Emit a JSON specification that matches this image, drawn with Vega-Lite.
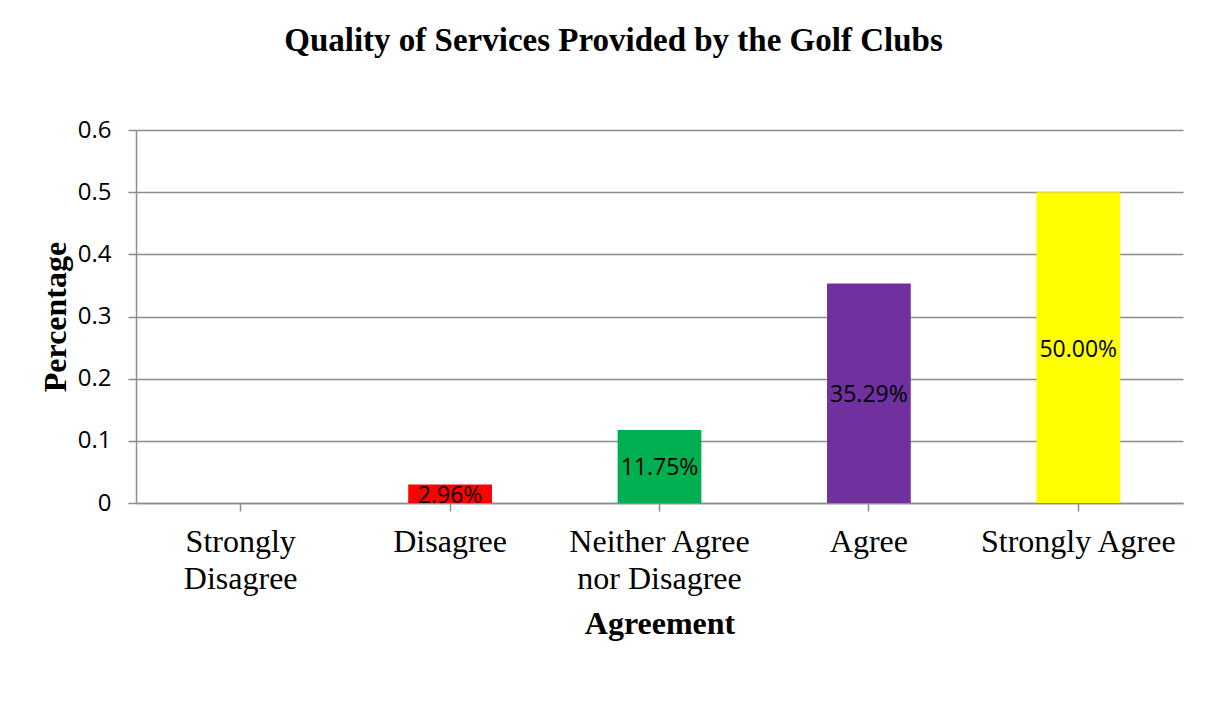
{
  "$schema": "https://vega.github.io/schema/vega-lite/v6.json",
  "width": 1047,
  "height": 373,
  "autosize": {"type": "none"},
  "padding": {"left": 136, "top": 130, "right": 29, "bottom": 206},
  "background": "white",
  "title": {
    "text": "Quality of Services Provided by the Golf Clubs",
    "font": "Liberation Serif",
    "fontSize": 33,
    "fontWeight": "bold",
    "color": "black",
    "offset": 60,
    "dx": -46
  },
  "data": {
    "values": [
      {"agreement": "Strongly Disagree", "value": 0, "label": "0.00%"},
      {"agreement": "Disagree", "value": 0.0296, "label": "2.96%"},
      {"agreement": "Neither Agree nor Disagree", "value": 0.1175, "label": "11.75%"},
      {"agreement": "Agree", "value": 0.3529, "label": "35.29%"},
      {"agreement": "Strongly Agree", "value": 0.5, "label": "50.00%"}
    ]
  },
  "encoding": {
    "x": {
      "field": "agreement",
      "type": "nominal",
      "sort": null,
      "scale": {"paddingInner": 0.6, "paddingOuter": 0.3},
      "axis": {
        "title": "Agreement",
        "titleFont": "Liberation Serif",
        "titleFontSize": 32,
        "titleFontWeight": "bold",
        "titleColor": "black",
        "titlePadding": 14,
        "labelFont": "Liberation Serif",
        "labelFontSize": 32,
        "labelColor": "black",
        "labelAngle": 0,
        "labelPadding": 15,
        "labelLimit": 400,
        "labelLineHeight": 37,
        "labelExpr": "datum.label == 'Strongly Disagree' ? ['Strongly', 'Disagree'] : datum.label == 'Neither Agree nor Disagree' ? ['Neither Agree', 'nor Disagree'] : datum.label",
        "tickBand": "boundary",
        "tickSize": 8,
        "tickColor": "#8c8c8c",
        "tickWidth": 1.5,
        "domainColor": "#8c8c8c",
        "domainWidth": 1.5,
        "grid": false
      }
    }
  },
  "layer": [
    {
      "mark": {"type": "bar"},
      "encoding": {
        "y": {
          "field": "value",
          "type": "quantitative",
          "scale": {"domain": [0, 0.6]},
          "axis": {
            "title": "Percentage",
            "titleFont": "Liberation Serif",
            "titleFontSize": 32,
            "titleFontWeight": "bold",
            "titleColor": "black",
            "titlePadding": 5,
            "values": [0, 0.1, 0.2, 0.3, 0.4, 0.5, 0.6],
            "format": ".1~f",
            "labelFont": "Open Sans",
            "labelFontSize": 24,
            "labelColor": "black",
            "labelPadding": 17,
            "tickSize": 8,
            "tickColor": "#8c8c8c",
            "tickWidth": 1.5,
            "domainColor": "#8c8c8c",
            "domainWidth": 1.5,
            "gridColor": "#8c8c8c",
            "gridWidth": 1.5
          }
        },
        "color": {
          "field": "agreement",
          "type": "nominal",
          "sort": null,
          "scale": {
            "domain": ["Strongly Disagree", "Disagree", "Neither Agree nor Disagree", "Agree", "Strongly Agree"],
            "range": ["#4472C4", "#FF0000", "#00B050", "#7030A0", "#FFFF00"]
          },
          "legend": null
        }
      }
    },
    {
      "transform": [
        {"filter": "datum.value > 0"},
        {"calculate": "datum.value / 2", "as": "mid"}
      ],
      "mark": {"type": "text", "font": "Open Sans", "fontSize": 23, "color": "black", "baseline": "middle", "dy": 2},
      "encoding": {
        "y": {"field": "mid", "type": "quantitative"},
        "text": {"field": "label"}
      }
    }
  ],
  "config": {
    "view": {"stroke": null}
  }
}
